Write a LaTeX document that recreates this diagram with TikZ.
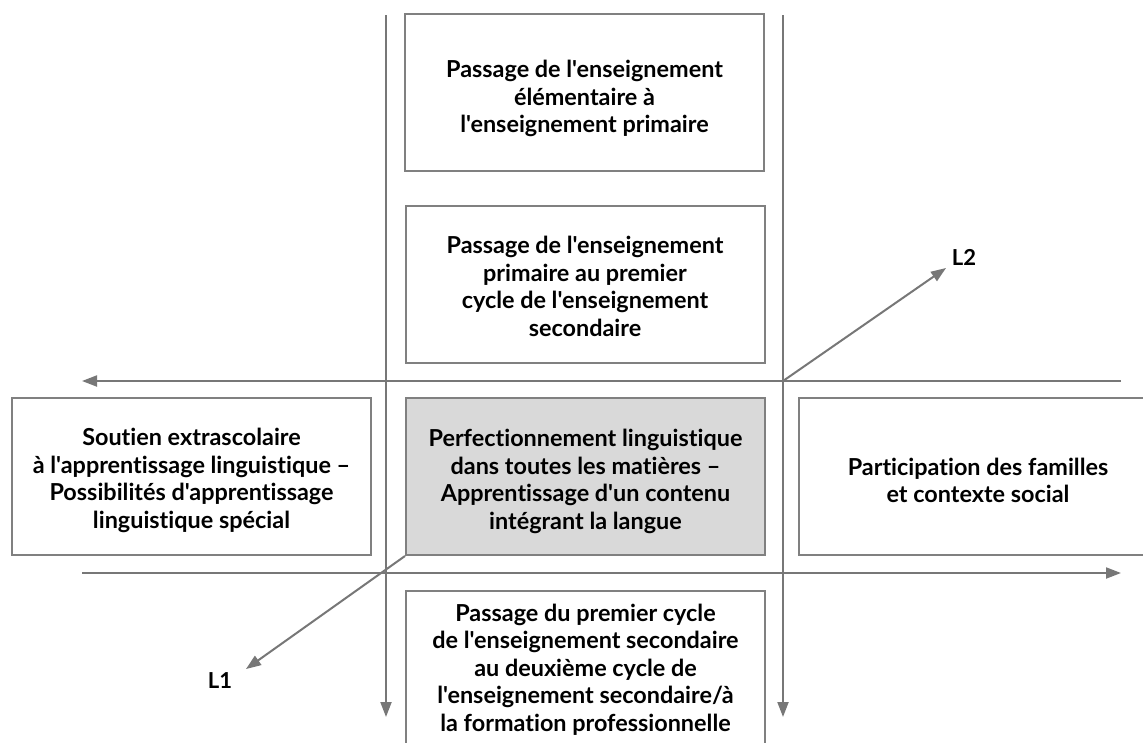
\documentclass[tikz,border=0pt]{standalone}
\usepackage{fontspec}
\setmainfont{Lato}[Ligatures={TeXOff,NoCommon}]
\usetikzlibrary{arrows.meta}
\definecolor{linegray}{HTML}{777777}
\definecolor{boxgray}{HTML}{808080}
\definecolor{fillgray}{HTML}{D9D9D9}
\begin{document}
\begin{tikzpicture}[x=1pt,y=-1pt,
  box/.style={draw=boxgray,line width=2pt,minimum width=359pt,minimum height=157pt,inner sep=0pt},
  txt/.style={align=center,inner sep=0pt,font=\fontsize{23.4}{27.5}\selectfont\bfseries},
  axis/.style={draw=linegray,line width=2pt,-{Triangle[length=15pt,width=11pt]}},
  lbl/.style={font=\fontsize{22}{24}\selectfont\bfseries}]
\useasboundingbox (0,0) rectangle (1143,742);
% boxes
\node[box] (top) at (584.5,92.5) {};
\node[box] (second) at (585,284.5) {};
\node[box,fill=fillgray] (center) at (585.5,476.5) {};
\node[box] (left) at (191.5,476.5) {};
\node[box] (right) at (978,476.5) {};
\node[box] (bottom) at (585.5,669.5) {};
% texts
\node[txt] (topT) at ([yshift=-6pt]top.center) {Passage de l'enseignement\\élémentaire à\\l'enseignement primaire};
\node[txt] (secondT) at ([yshift=-2pt]second.center) {Passage de l'enseignement\\primaire au premier\\cycle de l'enseignement\\secondaire};
\node[txt] (centerT) at ([yshift=-5pt]center.center) {Perfectionnement linguistique\\dans toutes les matières –\\Apprentissage d'un contenu\\intégrant la langue};
\node[txt] (leftT) at ([yshift=-4pt]left.center) {Soutien extrascolaire\\à l'apprentissage linguistique –\\Possibilités d'apprentissage\\linguistique spécial};
\node[txt] (rightT) at ([yshift=-4pt]right.center) {Participation des familles\\et contexte social};
\node[txt] (bottomT) at (bottom.center) {Passage du premier cycle\\de l'enseignement secondaire\\au deuxième cycle de\\l'enseignement secondaire/à\\la formation professionnelle};
% axis coordinates
\coordinate (vlTop) at (386,15);
\coordinate (vlEnd) at (386,717);
\coordinate (vrTop) at (783,15);
\coordinate (vrEnd) at (783,717);
\coordinate (htStart) at (1121,381);
\coordinate (htEnd) at (82,381);
\coordinate (hbStart) at (82,573);
\coordinate (hbEnd) at (1121,573);
\coordinate (origin2) at (783,381);
\coordinate (l2tip) at (946,268);
\coordinate (l1tip) at (246,669);
% axes
\draw[axis] (vlTop) -- (vlEnd);
\draw[axis] (vrTop) -- (vrEnd);
\draw[axis] (htStart) -- (htEnd);
\draw[axis] (hbStart) -- (hbEnd);
\draw[axis] (origin2) -- (l2tip);
\draw[axis] (center.south west) -- (l1tip);
% labels
\node[lbl] (L2) at (964,257) {L2};
\node[lbl] (L1) at (220,681) {L1};
\end{tikzpicture}
\end{document}
